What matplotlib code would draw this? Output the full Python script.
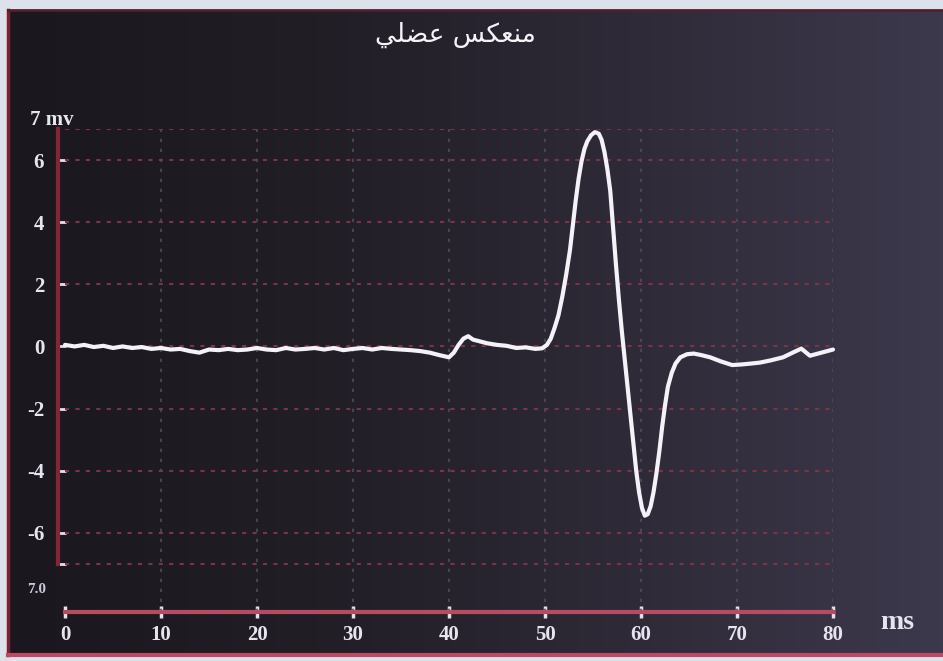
import numpy as np
import matplotlib
matplotlib.use("Agg")
import matplotlib.pyplot as plt
from matplotlib.colors import LinearSegmentedColormap

# Muscle reflex trace: time (ms) against potential (mV)
time_ms = [0, 1, 2, 3, 4, 5, 6, 7, 8, 9, 10, 11, 12, 13, 14, 15, 16, 17, 18, 19,
           20, 21, 22, 23, 24, 25, 26, 27, 28, 29, 30, 31, 32, 33, 34, 35, 36, 37,
           38, 39, 40, 40.5, 41, 41.5, 42, 42.5, 43, 44, 45, 46, 47, 48, 49, 49.7,
           50.2, 50.6, 51.0, 51.4, 51.8, 52.2, 52.6, 52.9, 53.2, 53.5, 53.8, 54.1,
           54.4, 54.8, 55.2, 55.6, 55.9, 56.2, 56.5, 56.8, 57.1, 57.4, 57.7, 58.0,
           58.3, 58.6, 58.9, 59.2, 59.5, 59.8, 60.1, 60.4, 60.7, 61.0, 61.3, 61.6,
           61.9, 62.2, 62.5, 62.8, 63.2, 63.6, 64.1, 64.8, 65.5, 66.3, 67.2, 68.3,
           69.5, 70.5, 71.5, 72.4, 73.5, 74.8, 75.8, 76.7, 77.6, 78.8, 80]
voltage_mv = [0.05, 0.0, 0.05, -0.02, 0.02, -0.05, 0.0, -0.05, -0.02, -0.08,
              -0.05, -0.1, -0.08, -0.15, -0.2, -0.1, -0.12, -0.08, -0.12, -0.1,
              -0.05, -0.1, -0.12, -0.05, -0.1, -0.08, -0.05, -0.1, -0.05, -0.12,
              -0.08, -0.05, -0.1, -0.05, -0.08, -0.1, -0.12, -0.15, -0.2, -0.28,
              -0.35, -0.2, 0.05, 0.25, 0.33, 0.22, 0.18, 0.1, 0.05, 0.02, -0.05,
              -0.03, -0.08, -0.06,
              0.05, 0.25, 0.6, 1.0, 1.6, 2.3, 3.1, 3.9, 4.7, 5.4, 5.95, 6.35,
              6.6, 6.8, 6.9, 6.85, 6.65, 6.25, 5.7, 5.0, 3.8, 2.6, 1.5, 0.5,
              -0.4, -1.3, -2.2, -3.1, -4.0, -4.7, -5.2, -5.45, -5.4, -5.15, -4.7, -4.1,
              -3.4, -2.6, -1.9, -1.3, -0.85, -0.55, -0.35, -0.25, -0.23, -0.28, -0.35, -0.48,
              -0.6, -0.58, -0.55, -0.52, -0.45, -0.35, -0.2, -0.07, -0.3, -0.2, -0.1]

x_ticks = [0, 10, 20, 30, 40, 50, 60, 70, 80]
y_ticks = [-7, -6, -4, -2, 0, 2, 4, 6]
y_tick_labels = ["", "-6", "-4", "-2", "0", "2", "4", "6"]
h_grid = [7, 6, 4, 2, 0, -2, -4, -6, -7]
v_grid = [10, 20, 30, 40, 50, 60, 70, 80]

# right-to-left title, written in presentation forms so the letters join
title = "\uFEF2\uFEE0\uFEC0\uFECB \uFEB2\uFEDC\uFECC\uFEE8\uFEE3"

serif = ["Liberation Serif", "DejaVu Serif"]
tick_font = {"family": serif, "weight": "bold", "size": 15}

fig = plt.figure(figsize=(9.43, 6.61), dpi=100, facecolor="#dde1ec")

# dark screen behind the plot, a little brighter towards the right
bg = fig.add_axes([8 / 943, 6 / 661, 935 / 943, 645 / 661])
screen = LinearSegmentedColormap.from_list(
    "screen", ["#1a171e", "#221e26", "#2e2a37", "#3d394d"])
bg.imshow(np.linspace(0, 1, 256)[None, :], cmap=screen, aspect="auto",
          extent=[0, 1, 0, 1])
bg.set_xticks([])
bg.set_yticks([])
bg.spines["right"].set_visible(False)
bg.spines["left"].set_color("#7a2233")
bg.spines["left"].set_linewidth(2.5)
bg.spines["top"].set_color("#4e2030")
bg.spines["top"].set_linewidth(2)
bg.spines["bottom"].set_color("#c04862")
bg.spines["bottom"].set_linewidth(3)

ax = fig.add_axes([65 / 943, 49 / 661, 768 / 943, 483 / 661])
ax.set_facecolor("none")
ax.set_xlim(0, 80)
ax.set_ylim(-8.55, 7.0)

ax.hlines(h_grid, 0, 80, colors="#7a3347", linestyles=(0, (2, 3)), lw=1.5)
ax.vlines(v_grid, -8.55, 7, colors="#4f4b58", linestyles=(0, (2, 4)), lw=1.2)

ax.plot(time_ms, voltage_mv, color="#f5f1f8", lw=3, clip_on=False,
        solid_joinstyle="round", solid_capstyle="round", zorder=5)

for side in ("top", "right"):
    ax.spines[side].set_visible(False)
ax.spines["left"].set_position(("outward", 5))
ax.spines["left"].set_bounds(-7, 7)
ax.spines["left"].set_color("#842638")
ax.spines["left"].set_linewidth(3)
ax.spines["bottom"].set_bounds(0, 80)
ax.spines["bottom"].set_color("#b84a62")
ax.spines["bottom"].set_linewidth(3)

ax.set_xticks(x_ticks)
ax.set_xticklabels([str(v) for v in x_ticks], fontdict=tick_font)
ax.set_yticks(y_ticks)
ax.set_yticklabels(y_tick_labels, fontdict=tick_font)
ax.tick_params(axis="x", direction="inout", length=9, width=2.5,
               color="#e8e0e8", labelcolor="#e6e4ee", pad=5)
ax.tick_params(axis="y", direction="in", length=6, width=2,
               color="#e8e0e8", labelcolor="#e6e4ee", pad=10)

ax.text(-3.6, 7.3, "7 mv", ha="left", va="center", color="#e6e4ee",
        family=serif, weight="bold", fontsize=15, clip_on=False)
ax.text(-3.95, -7.84, "7.0", ha="left", va="center", color="#c8c6d8",
        family=serif, weight="bold", fontsize=11, clip_on=False)
ax.text(86.7, -8.9, "ms", ha="center", va="center", color="#e6e4ee",
        family=serif, weight="bold", fontsize=20, clip_on=False)

fig.text(455 / 943, 1 - 35 / 661, title, ha="center", va="center",
         color="#f4f4f8", family="DejaVu Sans", fontsize=19)

fig.savefig("out.png", dpi=100, facecolor=fig.get_facecolor())
